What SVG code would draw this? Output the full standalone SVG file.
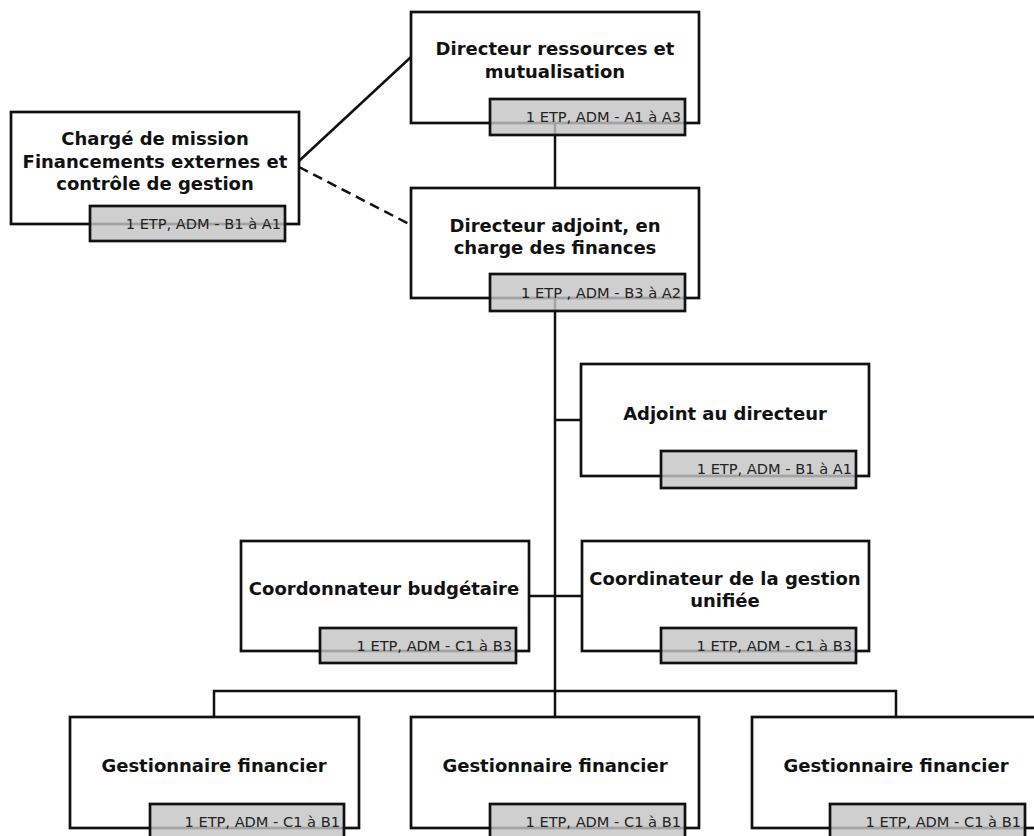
<svg xmlns="http://www.w3.org/2000/svg" width="1034" height="836" viewBox="0 0 1034 836">
<style>
.box{fill:#fff;stroke:#111;stroke-width:2.7}
.badge{fill:#c4c4c4;fill-opacity:0.81;stroke:#111;stroke-width:2.7}
.t{font-family:"DejaVu Sans",sans-serif;font-weight:bold;font-size:18px;fill:#111;text-anchor:middle}
.b{font-family:"DejaVu Sans",sans-serif;font-size:14.6px;fill:#222;text-anchor:end}
.c{stroke:#111;stroke-width:2.5;fill:none}
</style>
<rect width="1034" height="836" fill="#fff"/>
<g id="connectors">
<line class="c" x1="299" y1="161" x2="411" y2="57"/>
<line class="c" x1="299" y1="167" x2="411" y2="225" stroke-dasharray="10,6"/>
<line class="c" x1="555" y1="123" x2="555" y2="188"/>
<line class="c" x1="555" y1="298" x2="555" y2="717"/>
<line class="c" x1="555" y1="420" x2="582" y2="420"/>
<line class="c" x1="529" y1="596" x2="582" y2="596"/>
<path class="c" d="M214,717 V691 H896 V717"/>
</g>
<g id="n-top">
<rect class="box" x="411" y="12" width="288" height="111"/>
<text class="t" x="555" y="55">Directeur ressources et</text>
<text class="t" x="555" y="78">mutualisation</text>
<rect class="badge" x="490" y="99" width="195" height="36"/>
<text class="b" x="681" y="122">1 ETP, ADM - A1 à A3</text>
</g>
<g id="n-charge">
<rect class="box" x="11" y="112" width="288" height="112"/>
<text class="t" x="155" y="145">Chargé de mission</text>
<text class="t" x="155" y="168">Financements externes et</text>
<text class="t" x="155" y="190">contrôle de gestion</text>
<rect class="badge" x="90" y="206" width="195" height="35"/>
<text class="b" x="281" y="229">1 ETP, ADM - B1 à A1</text>
</g>
<g id="n-adj-fin">
<rect class="box" x="411" y="188" width="288" height="110"/>
<text class="t" x="555" y="232">Directeur adjoint, en</text>
<text class="t" x="555" y="254">charge des finances</text>
<rect class="badge" x="490" y="274" width="195" height="37"/>
<text class="b" x="681" y="298">1 ETP , ADM - B3 à A2</text>
</g>
<g id="n-adjoint">
<rect class="box" x="581" y="364" width="288" height="112"/>
<text class="t" x="725" y="420">Adjoint au directeur</text>
<rect class="badge" x="661" y="451" width="195" height="37"/>
<text class="b" x="852" y="474">1 ETP, ADM - B1 à A1</text>
</g>
<g id="n-budget">
<rect class="box" x="241" y="541" width="288" height="110"/>
<text class="t" x="384" y="595">Coordonnateur budgétaire</text>
<rect class="badge" x="320" y="628" width="196" height="35"/>
<text class="b" x="512" y="651">1 ETP, ADM - C1 à B3</text>
</g>
<g id="n-gestion">
<rect class="box" x="582" y="541" width="287" height="110"/>
<text class="t" x="725" y="585">Coordinateur de la gestion</text>
<text class="t" x="725" y="607">unifiée</text>
<rect class="badge" x="661" y="628" width="195" height="35"/>
<text class="b" x="852" y="651">1 ETP, ADM - C1 à B3</text>
</g>
<g id="n-gf1">
<rect class="box" x="70" y="717" width="289" height="111"/>
<text class="t" x="214" y="772">Gestionnaire financier</text>
<rect class="badge" x="150" y="804" width="194" height="40"/>
<text class="b" x="340" y="827">1 ETP, ADM - C1 à B1</text>
</g>
<g id="n-gf2">
<rect class="box" x="411" y="717" width="288" height="111"/>
<text class="t" x="555" y="772">Gestionnaire financier</text>
<rect class="badge" x="490" y="804" width="195" height="40"/>
<text class="b" x="681" y="827">1 ETP, ADM - C1 à B1</text>
</g>
<g id="n-gf3">
<rect class="box" x="752" y="717" width="290" height="111"/>
<text class="t" x="896" y="772">Gestionnaire financier</text>
<rect class="badge" x="830" y="804" width="195" height="40"/>
<text class="b" x="1021" y="827">1 ETP, ADM - C1 à B1</text>
</g>
</svg>
